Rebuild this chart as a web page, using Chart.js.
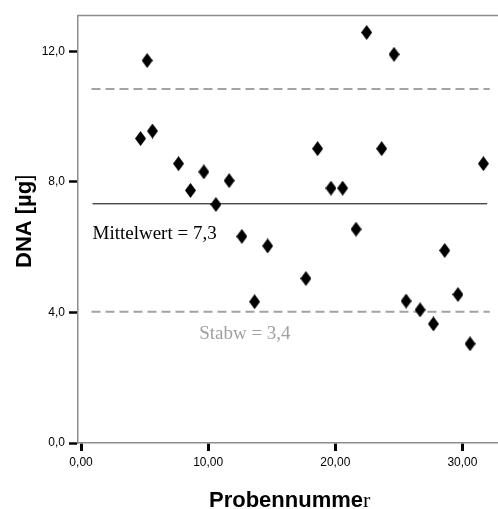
<!DOCTYPE html>
<html>
<head>
<meta charset="utf-8">
<script src="https://cdn.jsdelivr.net/npm/chart.js@4/dist/chart.umd.min.js"></script>
<style>
  html, body { margin: 0; padding: 0; background: #fff; }
  #wrap { width: 498px; height: 509px; }
</style>
</head>
<body>
<div id="wrap"><canvas id="c" width="498" height="509"></canvas></div>
<script>
// ---- data ----
const probeNr = [4.68, 5.20, 5.62, 7.67, 8.61, 9.66, 10.61, 11.65, 12.65, 13.65, 14.68, 17.69, 18.61,
  19.66, 20.58, 21.63, 22.47, 23.65, 24.62, 25.57, 26.67, 27.72, 28.61, 29.65, 30.60, 31.65]
const dnaUg = [9.33, 11.72, 9.56, 8.56, 7.74, 8.31, 7.31, 8.04, 6.33, 4.33, 6.04, 5.04, 9.02,
  7.81, 7.81, 6.55, 12.58, 9.02, 11.91, 4.35, 4.08, 3.65, 5.90, 4.55, 3.04, 8.56]
const xTicks = [0, 10, 20, 30]
const yTicks = [0, 4, 8, 12]
const mittelwert = 7.33
const stabwLines = [10.85, 4.02]
const meanSpan = [0.9, 31.95]
const dashSpan = [0.82, 32.15]

const GRAY = '#8c8c8c'
const DASH = '#a3a3a3'

// diamond marker, a little taller than wide
const diamond = document.createElement('canvas')
diamond.width = 11; diamond.height = 15
;(() => {
  const g = diamond.getContext('2d')
  g.fillStyle = '#000'
  g.beginPath(); g.moveTo(5.5, 0); g.lineTo(11, 7.5); g.lineTo(5.5, 15); g.lineTo(0, 7.5); g.closePath(); g.fill()
})()

const hline = (y, span, color, width, dash) => ({
  type: 'line',
  data: [{ x: span[0], y }, { x: span[1], y }],
  borderColor: color, borderWidth: width, borderDash: dash || [],
  pointRadius: 0, fill: false, order: 2,
})

// frame top + annotations + axis titles
const extras = {
  id: 'extras',
  afterDraw(chart) {
    const { ctx, chartArea: a, scales: { x, y } } = chart
    ctx.save()
    ctx.strokeStyle = GRAY; ctx.lineWidth = 1.5
    ctx.beginPath(); ctx.moveTo(a.left - 0.75, a.top); ctx.lineTo(a.right, a.top); ctx.stroke()

    ctx.textBaseline = 'alphabetic'; ctx.textAlign = 'left'
    ctx.font = '19px "Liberation Serif", "Times New Roman", serif'
    ctx.fillStyle = '#000'
    ctx.fillText('Mittelwert = 7,3', x.getPixelForValue(0.9), y.getPixelForValue(6.25))
    ctx.fillStyle = '#a0a0a0'
    ctx.fillText('Stabw = 3,4', x.getPixelForValue(9.29), y.getPixelForValue(3.18))

    // x title: bold sans with a serif last letter, as in the source
    ctx.fillStyle = '#000'
    const b = 'bold 22px "Liberation Sans", Arial, sans-serif'
    const s = '22px "Liberation Serif", "Times New Roman", serif'
    ctx.font = b
    ctx.fillText('Probennumme', 209, 506.5)
    const w1 = ctx.measureText('Probennumme').width
    ctx.font = s
    ctx.fillText('r', 209 + w1, 506.5)

    // y title, rotated
    ctx.translate(31, 268)
    ctx.rotate(-Math.PI / 2)
    ctx.font = b
    ctx.fillText('DNA [µg', 0, 0)
    const w2 = ctx.measureText('DNA [µg').width
    ctx.font = '22px "Liberation Sans", Arial, sans-serif'
    ctx.fillText(']', w2, 0)
    ctx.restore()
  },
}

Chart.defaults.font.family = '"Liberation Sans", Arial, sans-serif'
Chart.defaults.color = '#000'

new Chart(document.getElementById('c'), {
  type: 'scatter',
  data: {
    datasets: [
      hline(mittelwert, meanSpan, '#000', 1),
      ...stabwLines.map(v => hline(v, dashSpan, DASH, 2, [9, 5])),
      {
        data: probeNr.map((v, i) => ({ x: v, y: dnaUg[i] })),
        pointStyle: diamond, pointRadius: 6, showLine: false, order: 1,
      },
    ],
  },
  options: {
    responsive: false, animation: false,
    layout: { autoPadding: false, padding: { top: 15.5, right: 0, left: 0, bottom: 0 } },
    plugins: { legend: { display: false }, tooltip: { enabled: false } },
    scales: {
      x: {
        type: 'linear', min: -0.24, max: 32.8,
        afterBuildTicks: sc => { sc.ticks = xTicks.map(v => ({ value: v })) },
        afterFit: sc => { sc.height = 66; sc.paddingLeft = 0; sc.paddingRight = 0 },
        grid: { drawOnChartArea: false, drawTicks: true, tickLength: 8, tickWidth: 3, tickColor: '#000' },
        border: { color: GRAY, width: 1.5 },
        ticks: { padding: 4, font: { size: 12 }, maxRotation: 0, callback: v => v.toFixed(2).replace('.', ',') },
      },
      y: {
        type: 'linear', min: 0, max: 13.1,
        afterBuildTicks: sc => { sc.ticks = yTicks.map(v => ({ value: v })) },
        afterFit: sc => { sc.width = 78; sc.paddingTop = 0; sc.paddingBottom = 0 },
        grid: { drawOnChartArea: false, drawTicks: true, tickLength: 9, tickWidth: 2.5, tickColor: '#000' },
        border: { color: GRAY, width: 1.5 },
        ticks: { padding: 4, font: { size: 12 }, callback: v => v.toFixed(1).replace('.', ',') },
      },
    },
  },
  plugins: [extras],
})
</script>
</body>
</html>
